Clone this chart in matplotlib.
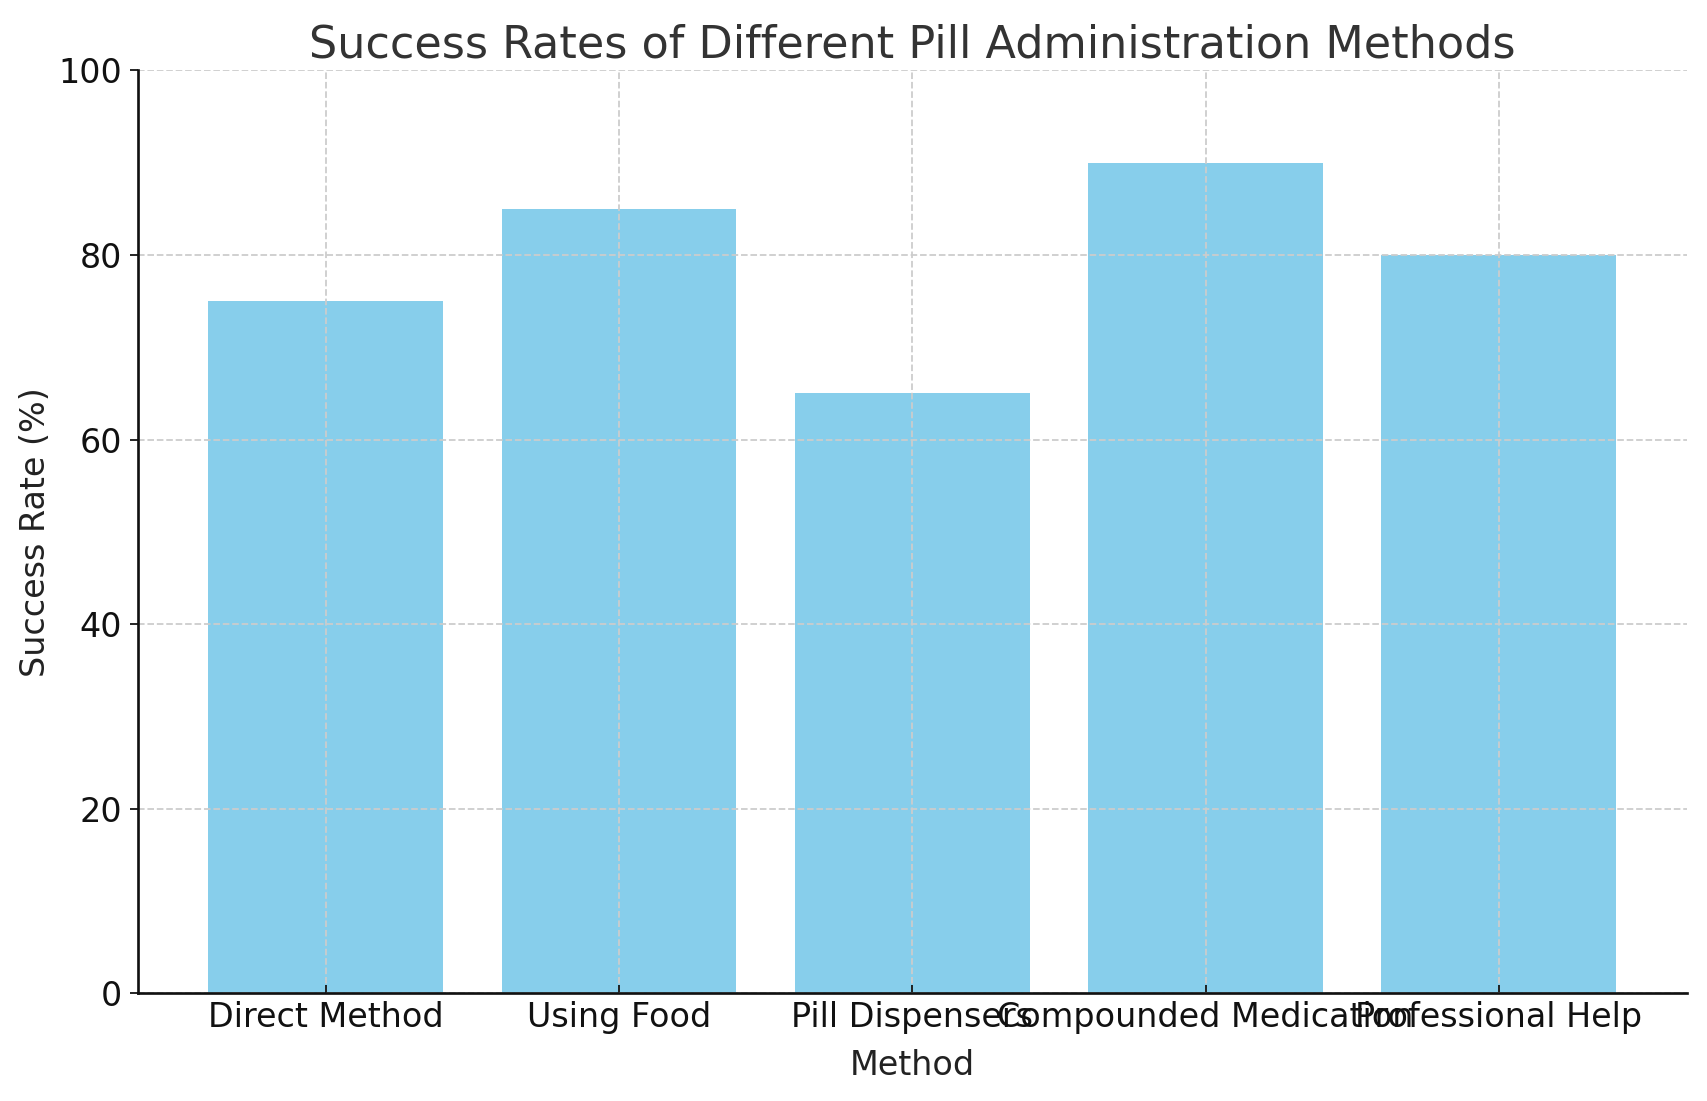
import matplotlib
matplotlib.use("Agg")
import matplotlib.pyplot as plt

methods = ["Direct Method", "Using Food", "Pill Dispensers", "Compounded Medication", "Professional Help"]
success_rates = [75, 85, 65, 90, 80]

fig = plt.figure(figsize=(1707/160, 1101/160), dpi=160)
ax = fig.add_axes([0.0808, 0.098, 0.988 - 0.0808, 0.936 - 0.098])

ax.bar(methods, success_rates, color="skyblue", width=0.8, zorder=0.3)
ax.set_ylim(0, 100)
ax.set_title("Success Rates of Different Pill Administration Methods", fontsize=20, color="#333333")
ax.set_xlabel("Method", fontsize=15, color="#222222", labelpad=7)
ax.set_ylabel("Success Rate (%)", fontsize=15, color="#222222", labelpad=3)
ax.set_axisbelow(True)
ax.grid(True, linestyle="--", color="#cccccc", linewidth=0.8)
for s in ["top", "right"]:
    ax.spines[s].set_visible(False)
for s in ["left", "bottom"]:
    ax.spines[s].set_color("#111111")
    ax.spines[s].set_linewidth(1.2)
ax.tick_params(axis="both", labelsize=15, colors="#111111")
ax.tick_params(axis="x", direction="in")

fig.savefig("out.png", dpi=160)
